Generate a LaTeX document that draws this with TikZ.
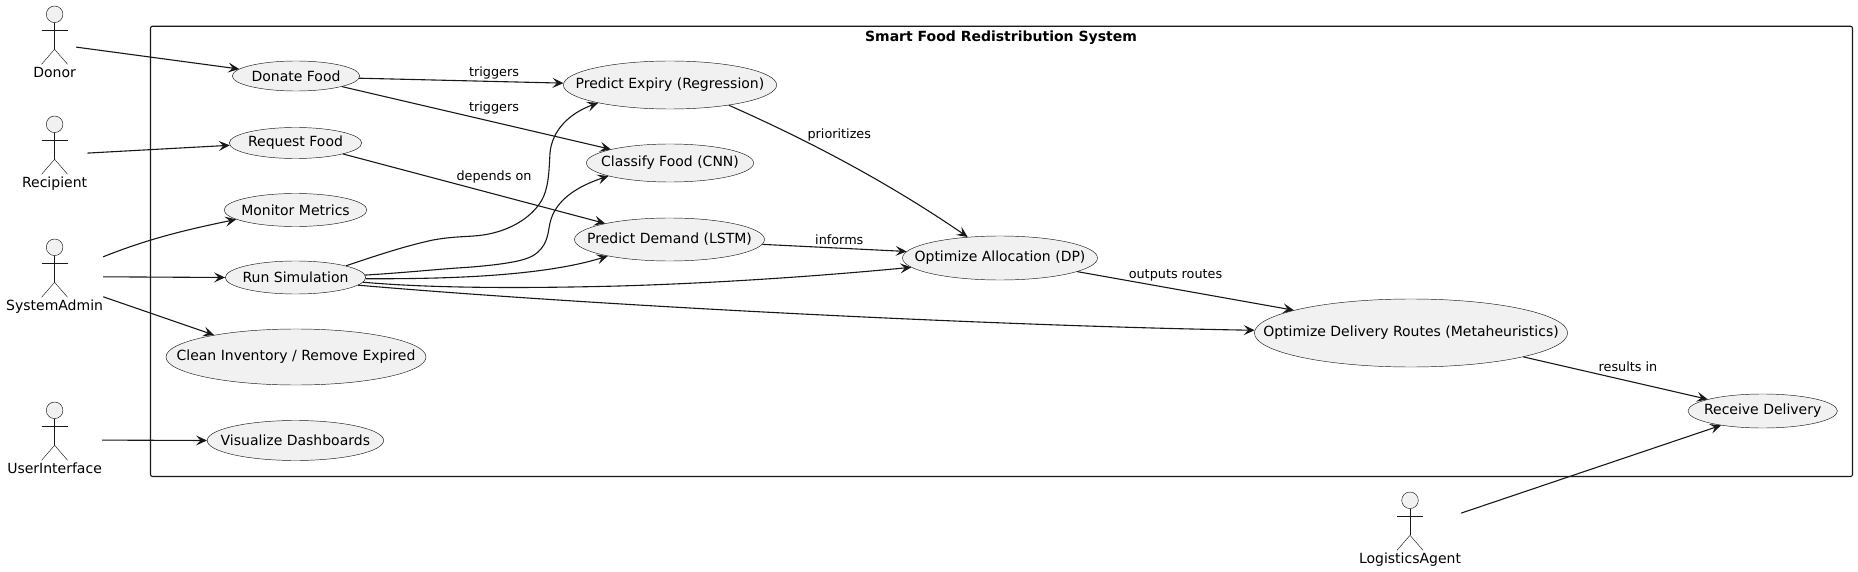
\documentclass[tikz,border=0pt]{standalone}
\usepackage{fontspec}
\setmainfont{DejaVu Sans}
\usetikzlibrary{shapes.geometric,arrows.meta}
\definecolor{ink}{HTML}{181818}
\definecolor{fillc}{HTML}{F1F1F1}
\newcommand{\uctext}[1]{\makebox[0pt][c]{#1}}
\tikzset{
  x=1pt,y=-1pt,
  uc/.style={ellipse,draw=ink,line width=0.45pt,fill=fillc,inner sep=0pt,text=black,font=\fontsize{14}{16}\selectfont},
  lbl/.style={inner sep=0pt,text=black,font=\fontsize{14}{16}\selectfont,text height=10.5pt,text depth=3pt},
  elbl/.style={lbl,font=\fontsize{12.8}{15}\selectfont},
  stick/.style={draw=ink,line width=0.45pt},
  conn/.style={draw=ink,line width=1.1pt,-{Stealth[length=11pt,width=10pt,inset=4.5pt]}},
}
\newcommand{\actorfig}[4]{%
  \draw[stick,fill=fillc] (#2,#3) ellipse [x radius=8.3,y radius=8.3];
  \draw[stick] (#2,#3+8.3) -- (#2,#3+35);
  \draw[stick] (#2-13,#3+16) -- (#2+13,#3+16);
  \draw[stick] (#2-13,#3+50) -- (#2,#3+35) -- (#2+13,#3+50);
  \node[lbl] (#1) at (#2,#3+59.5) {#4};
}
\begin{document}
\begin{tikzpicture}
\useasboundingbox (0,0) rectangle (1858,572);
\draw[ink,line width=1.1pt,rounded corners=2pt] (150.5,26.3) rectangle (1852.5,476.5);
\node[lbl,font=\fontsize{14}{16}\selectfont\bfseries] (title) at (1001,38) {Smart Food Redistribution System};

\actorfig{donor}{54.6}{14.3}{Donor}
\actorfig{recipient}{54.6}{124.3}{Recipient}
\actorfig{admin}{54.6}{247.3}{SystemAdmin}
\actorfig{ui}{54.6}{410.3}{UserInterface}
\actorfig{agent}{1410}{500.3}{LogisticsAgent}

\node[uc,minimum width=127.4pt,minimum height=30pt] (donate) at (296,76) {\uctext{Donate Food}};
\node[uc,minimum width=132.4pt,minimum height=31pt] (request) at (295.5,143) {\uctext{Request Food}};
\node[uc,minimum width=142.8pt,minimum height=33pt] (monitor) at (295.5,210) {\uctext{Monitor Metrics}};
\node[uc,minimum width=140.4pt,minimum height=33pt] (run) at (295.5,277.5) {\uctext{Run Simulation}};
\node[uc,minimum width=260pt,minimum height=56pt] (clean) at (296,357) {\uctext{Clean Inventory / Remove Expired}};
\node[uc,minimum width=176.4pt,minimum height=40pt] (viz) at (295.4,440.5) {\uctext{Visualize Dashboards}};
\node[uc,minimum width=213.2pt,minimum height=48pt] (expiry) at (670,85) {\uctext{Predict Expiry (Regression)}};
\node[uc,minimum width=167.2pt,minimum height=38pt] (classify) at (670,163) {\uctext{Classify Food (CNN)}};
\node[uc,minimum width=190pt,minimum height=43pt] (demand) at (669.5,239.5) {\uctext{Predict Demand (LSTM)}};
\node[uc,minimum width=195pt,minimum height=44pt] (alloc) at (1000,258) {\uctext{Optimize Allocation (DP)}};
\node[uc,minimum width=313.2pt,minimum height=68pt] (routes) at (1411,333) {\uctext{Optimize Delivery Routes (Metaheuristics)}};
\node[uc,minimum width=149.4pt,minimum height=34pt] (receive) at (1762.7,411) {\uctext{Receive Delivery}};

\draw[conn] ([yshift=26.7pt]donor.east) -- (donate.173.8);
\draw[conn] ([yshift=30.7pt]recipient.east) -- (request.182.7);
\draw[conn] ([yshift=50pt]admin.east) .. controls (150,238) and (190,229) .. (monitor.189.2);
\draw[conn] ([yshift=30pt]admin.east) -- (run.180);
\draw[conn] ([yshift=10pt]admin.east) -- (clean.165.2);
\draw[conn] ([yshift=29.7pt]ui.east) -- (viz.180);
\draw[conn] (donate.-2.4) -- (expiry.179);
\draw[conn] (donate.-13) -- (classify.167.6);
\draw[conn] (request.-13.6) -- (demand.166);
\draw[conn] (run.13.9) .. controls (375,256) and (405,246) .. (433,240)
  .. controls (455,236) and (470,237) .. (483,235)
  .. controls (510,231) and (530,218) .. (540,203)
  .. controls (549,190) and (549,170) .. (550,153)
  .. controls (552,130) and (570,113) .. (expiry.194);
\draw[conn] (run.2.9) .. controls (400,273) and (430,270) .. (457,268)
  .. controls (475,267) and (495,265) .. (507,263)
  .. controls (520,261) and (532,258) .. (538,252)
  .. controls (548,243) and (548,232) .. (550,223)
  .. controls (555,200) and (578,186) .. (classify.192.4);
\draw[conn] (run.-1) .. controls (440,279) and (540,277) .. (demand.195);
\draw[conn] (run.-4.8) .. controls (440,289) and (540,288) .. (619,286)
  .. controls (720,283) and (820,276) .. (alloc.186);
\draw[conn] (run.-7.1) .. controls (600,306) and (1000,326) .. (routes.179);
\draw[conn] (expiry.-19) .. controls (780,128) and (870,170) .. (alloc.147.9);
\draw[conn] (demand.-3) -- (alloc.176.8);
\draw[conn] (alloc.-10.4) -- (routes.169.9);
\draw[conn] (routes.-12.5) -- (receive.168);
\draw[conn] ([yshift=46.7pt]agent.east) -- (receive.199);

\node[elbl] (l1) at (494,72.7) {triggers};
\node[elbl] (l2) at (494,107.7) {triggers};
\node[elbl] (l3) at (494,176.7) {depends on};
\node[elbl] (l4) at (839.3,135) {prioritizes};
\node[elbl] (l5) at (839.3,240.7) {informs};
\node[elbl] (l6) at (1175.5,275) {outputs routes};
\node[elbl] (l7) at (1628,367.7) {results in};
\end{tikzpicture}
\end{document}
